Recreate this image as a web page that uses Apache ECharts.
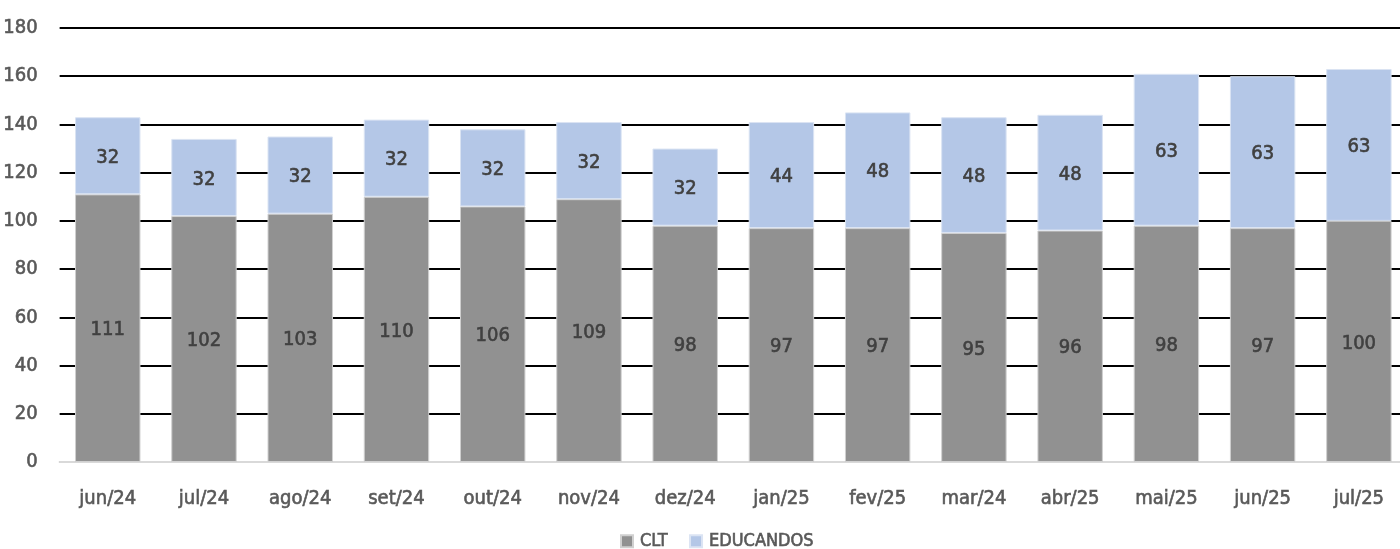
<!DOCTYPE html>
<html><head><meta charset="utf-8">
<script src="https://cdn.jsdelivr.net/npm/echarts@6/dist/echarts.min.js"></script>
<style>html,body{margin:0;padding:0;background:#fff;overflow:hidden;width:1400px;height:549px}#c{width:1407px;height:549px}</style>
</head><body><div id="c"></div>
<script>
const categories = ['jun/24','jul/24','ago/24','set/24','out/24','nov/24','dez/24','jan/25','fev/25','mar/24','abr/25','mai/25','jun/25','jul/25'];
const clt = [111,102,103,110,106,109,98,97,97,95,96,98,97,100];
const educandos = [32,32,32,32,32,32,32,44,48,48,48,63,63,63];
const yTicks = {min:0, max:180, interval:20};
const font = '"DejaVu Sans Condensed", "Liberation Sans Narrow", Roboto, sans-serif';
const fs = 20;
const axisText = {color:'#595959', fontSize:fs, fontFamily:font, textBorderColor:'#595959', textBorderWidth:0.6};
const barText = {color:'#404040', fontSize:fs, fontFamily:font, textBorderColor:'#404040', textBorderWidth:0.6};
const chart = echarts.init(document.getElementById('c'));
chart.setOption({
  animation:false,
  textStyle:{fontFamily:font},
  grid:{left:59, right:0, top:28, bottom:87, containLabel:false},
  legend:{top:527, left:615, itemWidth:12, itemHeight:12, itemGap:21, icon:'rect',
    textStyle:Object.assign({}, axisText, {fontSize:18, padding:[0,0,0,2]})},
  xAxis:{type:'category', data:categories,
    axisLine:{lineStyle:{color:'#d9d9d9', width:2}}, axisTick:{show:false},
    axisLabel:Object.assign({margin:27}, axisText)},
  yAxis:{type:'value', min:yTicks.min, max:yTicks.max, interval:yTicks.interval,
    axisLine:{show:false}, axisTick:{show:false},
    splitLine:{lineStyle:{color:'#000', width:2}},
    axisLabel:Object.assign({margin:22}, axisText)},
  series:[
    {name:'CLT', type:'bar', stack:'t', data:clt, barWidth:'68%',
      itemStyle:{color:'#919191', borderColor:'#d0d0d0', borderWidth:1},
      label:Object.assign({show:true, position:'inside', offset:[0,2]}, barText)},
    {name:'EDUCANDOS', type:'bar', stack:'t', data:educandos, barWidth:'68%',
      itemStyle:{color:'#b4c7e7', borderColor:'#dbe4f3', borderWidth:1},
      label:Object.assign({show:true, position:'inside', offset:[0,2]}, barText)}
  ]
});
</script></body></html>
